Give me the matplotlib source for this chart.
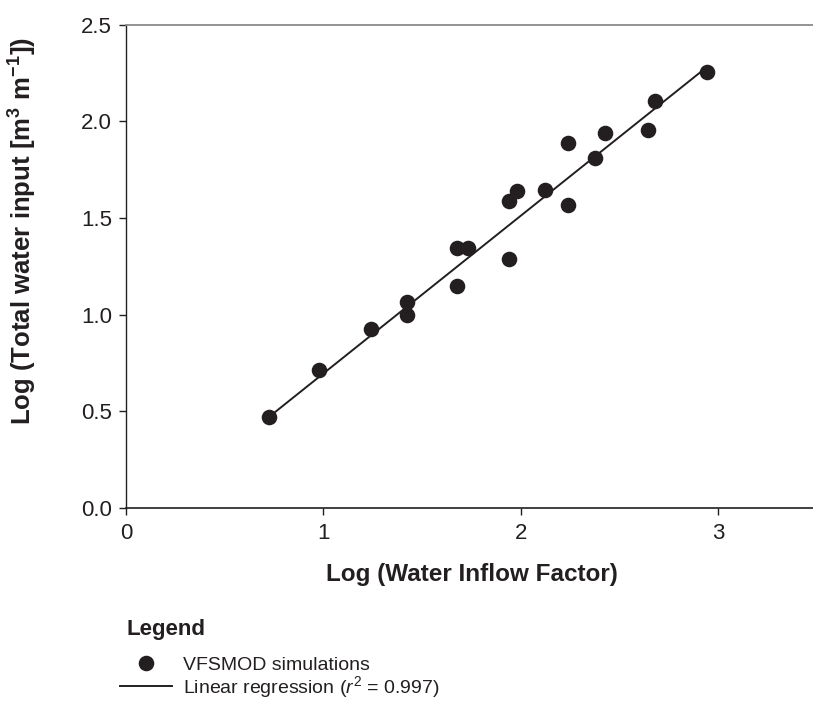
import matplotlib
matplotlib.use("Agg")
import matplotlib.pyplot as plt
import numpy as np

# Data
log_wif = [0.723, 0.976, 1.240, 1.425, 1.425, 1.675, 1.678, 1.731, 1.939, 1.940,
           1.979, 2.124, 2.241, 2.241, 2.376, 2.425, 2.643, 2.680, 2.942]
log_twi = [0.469, 0.712, 0.928, 1.064, 0.998, 1.148, 1.347, 1.347, 1.287, 1.590,
           1.640, 1.645, 1.887, 1.566, 1.809, 1.938, 1.956, 2.107, 2.256]
reg_slope = 0.816
reg_intercept = -0.120
x_ticks = [0, 1, 2, 3]
y_ticks = [0.0, 0.5, 1.0, 1.5, 2.0, 2.5]
y_ticklabels = ["0.0", "0.5", "1.0", "1.5", "2.0", "2.5"]

ink = "#231f20"
plt.rcParams['font.family'] = ['Liberation Sans', 'DejaVu Sans']
plt.rcParams['mathtext.fontset'] = 'custom'
plt.rcParams['mathtext.it'] = 'Liberation Sans:italic'
plt.rcParams['mathtext.rm'] = 'Liberation Sans'
plt.rcParams['mathtext.bf'] = 'Liberation Sans:bold'

W, H = 813, 711
fig = plt.figure(figsize=(W / 100, H / 100), dpi=100)
ax = fig.add_axes([126 / W, 1 - 508 / H, 1 - 126 / W, (508 - 24.7) / H])

xl = np.array([min(log_wif), max(log_wif)])
line, = ax.plot(xl, reg_slope * xl + reg_intercept, color=ink, lw=1.4, zorder=2)
pts, = ax.plot(log_wif, log_twi, 'o', color=ink, markersize=10.2, zorder=3,
               linestyle='none')

ax.set_xlim(0, 3.48)
ax.set_ylim(0, 2.5)
ax.set_xticks(x_ticks)
ax.set_yticks(y_ticks)
ax.set_yticklabels(y_ticklabels)
ax.tick_params(direction='out', length=5, width=1, color=ink, labelcolor=ink,
               labelsize=16)
ax.tick_params(axis='y', pad=5)
ax.tick_params(axis='x', pad=6)

ax.spines['right'].set_visible(False)
ax.spines['top'].set_color('#8a8a8a')
ax.spines['top'].set_linewidth(1.3)
ax.spines['left'].set_color(ink)
ax.spines['bottom'].set_color(ink)
ax.spines['left'].set_linewidth(1)
ax.spines['bottom'].set_linewidth(1.2)

ax.set_xlabel("Log (Water Inflow Factor)", fontsize=17.5, fontweight='bold',
              color=ink)
ax.xaxis.set_label_coords((472 - 126) / 687, (508 - 563) / 483.3)
ax.set_ylabel("Log (Total water input [m$^\\mathbf{3}$ m$^\\mathbf{-1}$])",
              fontsize=18.5, fontweight='bold', color=ink)
ax.yaxis.set_label_coords((39 - 126) / 687, (508 - 231) / 483.3)

fig.text(127 / W, 1 - 630 / H, "Legend", fontsize=16, fontweight='bold',
         color=ink, ha='left', va='center')

leg = fig.legend([pts, line],
                 ["VFSMOD simulations", "Linear regression ($r^2$ = 0.997)"],
                 loc='upper left', bbox_to_anchor=(120 / W, 1 - 656 / H),
                 frameon=False, fontsize=14, handlelength=2.67,
                 handletextpad=0.56, labelspacing=0.0, borderpad=0,
                 borderaxespad=0, labelcolor=ink)

fig.savefig("out.png", dpi=100)
